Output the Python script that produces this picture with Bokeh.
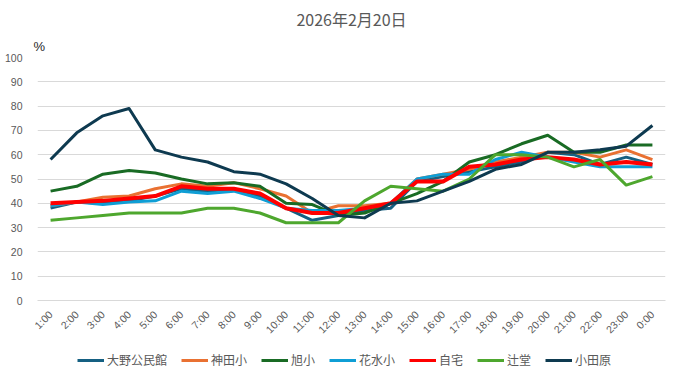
from bokeh.plotting import figure
from bokeh.models import Range1d, FixedTicker, Legend, LegendItem, Title
from bokeh.layouts import column
from bokeh.embed import file_html
from bokeh.resources import INLINE
import math

hours = ["1:00", "2:00", "3:00", "4:00", "5:00", "6:00", "7:00", "8:00", "9:00", "10:00",
         "11:00", "12:00", "13:00", "14:00", "15:00", "16:00", "17:00", "18:00", "19:00",
         "20:00", "21:00", "22:00", "23:00", "0:00"]

oono = [38, 40.5, 40, 41, 43, 46, 45, 46, 43, 38, 33, 35, 37, 38, 49, 51, 53, 55, 57, 61, 60, 56, 59, 56]
kanda = [39, 40.5, 42.5, 43, 46, 48, 47, 48.5, 46, 43, 36, 39, 39, 40, 50, 52, 54, 57, 59, 61, 61, 59, 62, 58]
asahi = [45, 47, 52, 53.5, 52.5, 50, 48, 48.5, 47, 40, 39.5, 35, 36, 40, 44, 49, 57, 60, 64.5, 68, 61, 61, 64, 64]
hanamizu = [39, 40.5, 39.5, 40.5, 41, 45, 44, 45, 42, 38, 37, 37, 38, 40, 50, 52, 52, 58, 61, 59, 57, 55, 55, 55]
jitaku = [40, 40.5, 41, 42, 43, 47, 46, 46, 44, 38, 36, 36, 38, 40, 49, 49, 55, 56, 58, 59, 58, 56, 57, 56]
tsujido = [33, 34, 35, 36, 36, 36, 38, 38, 36, 32, 32, 32, 41, 47, 46, 45, 50, 60, 60, 59, 55, 58, 47.5, 51]
odawara = [58, 69, 76, 79, 62, 59, 57, 53, 52, 48, 42, 35, 34, 40, 41, 45, 49, 54, 56, 61, 61, 62, 63.5, 72]

series_names = ["大野公民館", "神田小", "旭小", "花水小", "自宅", "辻堂", "小田原"]
series_values = [oono, kanda, asahi, hanamizu, jitaku, tsujido, odawara]
series_colors = ["#156082", "#E97132", "#196B24", "#0F9ED5", "#FF0000", "#4EA72E", "#0E3A50"]
series_widths = [3, 3, 3, 3, 4, 3, 3]

y_ticks = list(range(0, 101, 10))
title_text = "2026年2月20日"
unit_text = "%"

p = figure(x_range=hours, y_range=Range1d(0, 100), width=673, height=342,
           output_backend="svg", toolbar_location=None, title=None,
           min_border_left=37, min_border_right=8, min_border_top=57, min_border_bottom=40)

unit_title = Title(text=unit_text, align="left", offset=-4, standoff=8,
                   text_font="Liberation Sans", text_font_size="13px",
                   text_font_style="normal", text_color="#262626")
p.add_layout(unit_title, "above")
main_title = Title(text=title_text, align="center", standoff=4,
                   text_font="Noto Sans CJK JP", text_font_size="16px",
                   text_font_style="normal", text_color="#595959")
p.add_layout(main_title, "above")

p.outline_line_color = None
p.background_fill_color = "white"
p.border_fill_color = "white"

p.xgrid.grid_line_color = None
p.ygrid.grid_line_color = "#D9D9D9"
p.ygrid.grid_line_width = 1
p.yaxis.ticker = FixedTicker(ticks=y_ticks)
p.yaxis.axis_line_color = None
p.yaxis.major_tick_line_color = None
p.yaxis.minor_tick_line_color = None
p.yaxis.major_label_standoff = 9
p.yaxis.major_label_text_font = "Liberation Sans"
p.yaxis.major_label_text_font_size = "10.5px"
p.yaxis.major_label_text_color = "#595959"

p.xaxis.axis_line_color = "#D9D9D9"
p.xaxis.major_tick_line_color = None
p.xaxis.minor_tick_line_color = None
p.xaxis.major_label_orientation = math.pi / 4
p.xaxis.major_label_standoff = 6
p.xaxis.major_label_text_font = "Liberation Sans"
p.xaxis.major_label_text_font_size = "10.5px"
p.xaxis.major_label_text_color = "#595959"

for name, vals, col, w in zip(series_names, series_values, series_colors, series_widths):
    p.line(x=hours, y=vals, line_color=col, line_width=w, line_join="round")

# legend strip below the chart
lg = figure(width=673, height=29, x_range=Range1d(0, 1), y_range=Range1d(0, 1),
            x_axis_location=None, y_axis_location=None,
            output_backend="svg", toolbar_location=None, title=None,
            min_border_left=0, min_border_right=0, min_border_top=0, min_border_bottom=0)
lg.grid.visible = False
lg.outline_line_color = None
lg.border_fill_color = "white"
items = []
for name, col, w in zip(series_names, series_colors, series_widths):
    r = lg.line(x=[5, 6], y=[5, 6], line_color=col, line_width=3)
    items.append(LegendItem(label=name, renderers=[r]))
legend = Legend(items=items, orientation="horizontal", location=(40, 3),
                glyph_width=27, glyph_height=16, label_standoff=3, spacing=14,
                padding=3, margin=0, border_line_color=None, background_fill_alpha=0,
                label_text_font="Noto Sans CJK JP", label_text_font_size="12px",
                label_text_color="#595959")
lg.add_layout(legend, "center")

layout = column(p, lg, spacing=0)
open("out.html", "w").write(file_html(layout, INLINE))
